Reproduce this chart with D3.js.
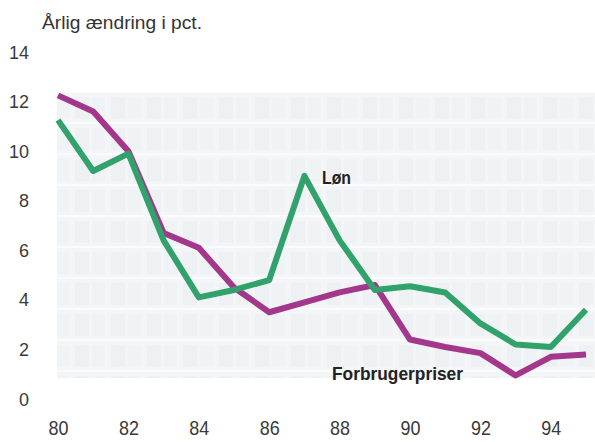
<!DOCTYPE html>
<html>
<head>
<meta charset="utf-8">
<script src="https://cdn.jsdelivr.net/npm/d3@7"></script>
<style>
  body { margin: 0; background: #fff; }
  svg { display: block; }
  text { font-family: 'Liberation Sans', Arial, sans-serif; }
</style>
</head>
<body>
<svg id="chart" width="595" height="442"></svg>
<script>
const years = [80, 81, 82, 83, 84, 85, 86, 87, 88, 89, 90, 91, 92, 93, 94, 95]
const loen = [11.25, 9.2, 9.9, 6.4, 4.1, 4.4, 4.8, 9.0, 6.4, 4.4, 4.55, 4.3, 3.05, 2.2, 2.1, 3.6]
const priser = [12.25, 11.6, 10.0, 6.7, 6.1, 4.5, 3.5, 3.9, 4.3, 4.6, 2.4, 2.1, 1.85, 0.95, 1.7, 1.8]
const xTicks = [80, 82, 84, 86, 88, 90, 92, 94]
const yTicks = [0, 2, 4, 6, 8, 10, 12, 14]

const svg = d3.select('#chart')

const x = d3.scaleLinear().domain([80, 95]).range([58, 586])
const y = d3.scaleLinear().domain([0, 14]).range([399, 52])

// pale scanned-paper texture behind the lines
const defs = svg.append('defs')
const pat = defs.append('pattern')
    .attr('id', 'tex')
    .attr('patternUnits', 'userSpaceOnUse')
    .attr('width', 36)
    .attr('height', 31)
pat.append('rect').attr('width', 36).attr('height', 31).attr('fill', '#f3f5f7')
pat.append('rect').attr('x', 3).attr('y', 4).attr('width', 14).attr('height', 22)
    .attr('fill', '#eef1f4')
pat.append('rect').attr('x', 20).attr('y', 4).attr('width', 13).attr('height', 22)
    .attr('fill', '#f0f3f5')
pat.append('line').attr('x1', 0).attr('x2', 36).attr('y1', 30).attr('y2', 30)
    .attr('stroke', '#fafbfc').attr('stroke-width', 2)

svg.append('rect')
    .attr('x', 57)
    .attr('y', 92)
    .attr('width', 538)
    .attr('height', 286)
    .attr('fill', 'url(#tex)')

svg.append('text')
    .attr('x', 42)
    .attr('y', 29)
    .attr('font-size', 19)
    .attr('fill', '#333')
    .attr('textLength', 160)
    .attr('lengthAdjust', 'spacingAndGlyphs')
    .text('Årlig ændring i pct.')

// axes without lines, only labels
const yAxis = svg.append('g')
    .attr('transform', 'translate(29,0)')
    .call(d3.axisLeft(y).tickValues(yTicks).tickSize(0).tickPadding(0))
yAxis.select('.domain').remove()
yAxis.selectAll('text')
    .attr('font-size', 19)
    .attr('font-family', "'Liberation Sans', Arial, sans-serif")
    .attr('fill', '#3a3a3a')
    .attr('textLength', d => String(d).length * 10)
    .attr('lengthAdjust', 'spacingAndGlyphs')

const xAxis = svg.append('g')
    .attr('transform', 'translate(0,421)')
    .call(d3.axisBottom(x).tickValues(xTicks).tickSize(0).tickPadding(0))
xAxis.select('.domain').remove()
xAxis.selectAll('text')
    .attr('font-size', 20)
    .attr('font-family', "'Liberation Sans', Arial, sans-serif")
    .attr('fill', '#3a3a3a')
    .attr('textLength', d => String(d).length * 10)
    .attr('lengthAdjust', 'spacingAndGlyphs')

const line = d3.line()
    .x((d, i) => x(years[i]))
    .y(d => y(d))

svg.append('path')
    .datum(priser)
    .attr('d', line)
    .attr('fill', 'none')
    .attr('stroke', '#a3378b')
    .attr('stroke-width', 6)
    .attr('stroke-linejoin', 'round')

svg.append('path')
    .datum(loen)
    .attr('d', line)
    .attr('fill', 'none')
    .attr('stroke', '#31a26b')
    .attr('stroke-width', 6)
    .attr('stroke-linejoin', 'round')

svg.append('text')
    .attr('x', 322)
    .attr('y', 184)
    .attr('font-size', 18)
    .attr('font-weight', 'bold')
    .attr('fill', '#222')
    .attr('textLength', 29)
    .attr('lengthAdjust', 'spacingAndGlyphs')
    .text('Løn')

svg.append('text')
    .attr('x', 332)
    .attr('y', 380)
    .attr('font-size', 18)
    .attr('font-weight', 'bold')
    .attr('fill', '#222')
    .attr('textLength', 131)
    .attr('lengthAdjust', 'spacingAndGlyphs')
    .text('Forbrugerpriser')
</script>
</body>
</html>
